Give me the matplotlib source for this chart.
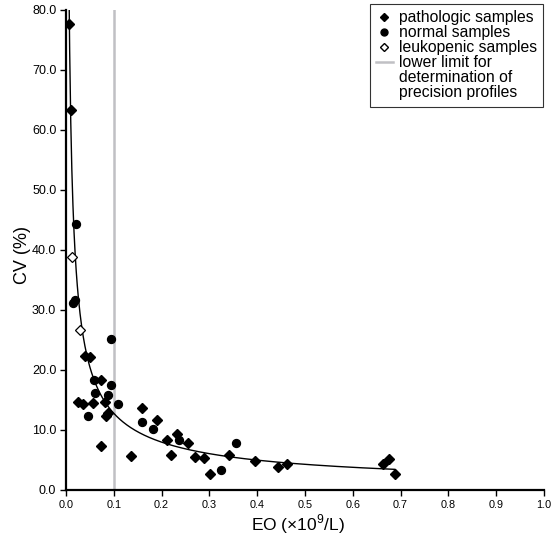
import numpy as np
import matplotlib.pyplot as plt
from matplotlib.lines import Line2D

plt.rcParams['font.family'] = ['Liberation Sans', 'DejaVu Sans']
plt.rcParams['mathtext.fontset'] = 'custom'
plt.rcParams['mathtext.rm'] = 'Liberation Sans'

# pathologic samples (filled diamonds)
path_x = [0.006, 0.010, 0.040, 0.050, 0.074, 0.026, 0.035, 0.056, 0.081, 0.084,
          0.088, 0.074, 0.135, 0.158, 0.191, 0.211, 0.220, 0.232, 0.256, 0.270,
          0.289, 0.301, 0.340, 0.396, 0.444, 0.463, 0.664, 0.676, 0.688]
path_y = [77.6, 63.4, 22.4, 22.1, 18.4, 14.6, 14.3, 14.5, 14.6, 12.4,
          12.9, 7.4, 5.6, 13.6, 11.7, 8.3, 5.9, 9.4, 7.9, 5.5,
          5.3, 2.6, 5.8, 4.9, 3.8, 4.3, 4.4, 5.1, 2.6]

# normal samples (filled circles)
norm_x = [0.021, 0.015, 0.019, 0.095, 0.059, 0.061, 0.094, 0.088, 0.109, 0.045,
          0.160, 0.183, 0.237, 0.324, 0.356]
norm_y = [44.3, 31.1, 31.6, 25.2, 18.4, 16.2, 17.5, 15.9, 14.4, 12.3,
          11.4, 10.2, 8.3, 3.4, 7.8]

# leukopenic samples (open diamonds)
leuk_x = [0.013, 0.029]
leuk_y = [38.8, 26.7]

limit_x = 0.1

# power trend line CV = a * EO^b, coefficients
trend_a = 2.67
trend_b = -0.68

xticks = [0.0, 0.1, 0.2, 0.3, 0.4, 0.5, 0.6, 0.7, 0.8, 0.9, 1.0]
yticks = [0, 10, 20, 30, 40, 50, 60, 70, 80]

all_x = np.array(path_x + norm_x + leuk_x)
fit_x = np.linspace(all_x.min() * 0.9, all_x.max(), 600)
fit_y = trend_a * fit_x ** trend_b

fig = plt.figure(figsize=(5.52, 5.36), dpi=100)
ax = fig.add_axes([66 / 552, 1 - 490 / 536, 478 / 552, 480 / 536])

ax.axvline(limit_x, color='#c0c0c4', lw=1.8, zorder=1)
ax.plot(fit_x, fit_y, color='black', lw=1.0, zorder=2)
ax.plot(path_x, path_y, 'D', color='black', ms=4.7, zorder=3)
ax.plot(norm_x, norm_y, 'o', color='black', ms=5.7, zorder=3)
ax.plot(leuk_x, leuk_y, 'D', mfc='white', mec='black', mew=0.9, ms=4.7, zorder=4)

ax.set_xlim(0, 1.0)
ax.set_ylim(0, 80)
ax.set_xticks(xticks)
ax.set_xticklabels(['%.1f' % v for v in xticks], fontsize=7.8)
ax.set_yticks(yticks)
ax.set_yticklabels(['%.1f' % v for v in yticks], fontsize=9)

for s in ['top', 'right']:
    ax.spines[s].set_visible(False)
for s in ['left', 'bottom']:
    ax.spines[s].set_linewidth(1.6)
ax.tick_params(direction='out', length=4, width=1, pad=3)

ax.set_xlabel('EO (×10$^{9}$/L)', fontsize=12.5)
ax.set_ylabel('CV (%)', fontsize=13)
ax.xaxis.set_label_coords((298 - 66) / 478, -0.047)
ax.yaxis.set_label_coords(-0.074, 0.49)

blank = Line2D([], [], ls='none')
handles = [
    Line2D([], [], marker='D', color='black', ls='none', ms=4),
    Line2D([], [], marker='o', color='black', ls='none', ms=5),
    Line2D([], [], marker='D', mfc='white', mec='black', ls='none', ms=4.5),
    Line2D([], [], color='#c0c0c4', lw=1.8),
    blank,
    blank,
]
labels = ['pathologic samples', 'normal samples', 'leukopenic samples',
          'lower limit for', 'determination of', 'precision profiles']
leg = fig.legend(handles, labels, loc='upper right',
                 bbox_to_anchor=(543 / 552, 1 - 4 / 536),
                 fontsize=11.3, frameon=True, fancybox=False,
                 handlelength=1.1, handletextpad=0.35, labelspacing=0.0,
                 borderpad=0.4, borderaxespad=0)
leg.get_frame().set_edgecolor('black')
leg.get_frame().set_linewidth(0.8)

fig.savefig('out.png', dpi=100)
